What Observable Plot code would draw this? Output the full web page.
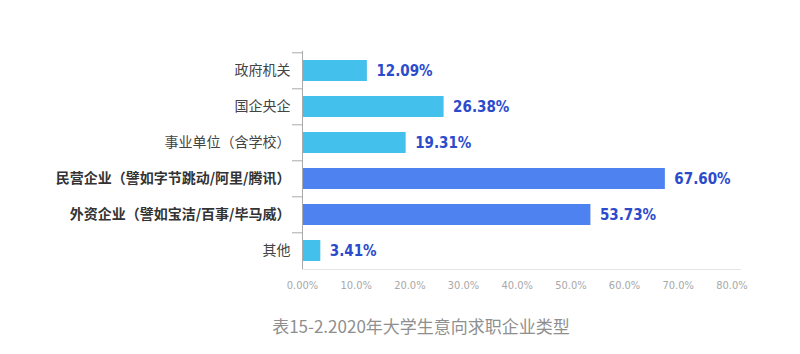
<!DOCTYPE html>
<html>
<head>
<meta charset="utf-8">
<script src="https://cdn.jsdelivr.net/npm/d3@7"></script>
<script src="https://cdn.jsdelivr.net/npm/@observablehq/plot@0.6"></script>
<style>
  body { margin: 0; background: #fff; width: 800px; height: 354px; position: relative; overflow: hidden; }
  #chart svg { display: block; }
  #caption { position: absolute; left: 0; width: 842px; top: 314px; text-align: center;
    font-family: "Noto Sans CJK SC", sans-serif; font-size: 17px; color: #8f8f8f; line-height: 24px; }
</style>
</head>
<body>
<div id="chart"></div>
<div id="caption">表15-2.2020年大学生意向求职企业类型</div>
<script>
const categories = ["政府机关", "国企央企", "事业单位（含学校）", "民营企业（譬如字节跳动/阿里/腾讯）", "外资企业（譬如宝洁/百事/毕马威）", "其他"];
const values = [12.09, 26.38, 19.31, 67.60, 53.73, 3.41];
const highlighted = [false, false, false, true, true, false];
const xTicks = [0, 10, 20, 30, 40, 50, 60, 70, 80];

const data = categories.map((c, i) => ({ cat: c, value: values[i], hi: highlighted[i] }));
const boldSet = new Set(categories.filter((c, i) => highlighted[i]));

const chart = Plot.plot({
  width: 800,
  height: 300,
  marginTop: 51,
  marginBottom: 31,
  marginLeft: 302,
  marginRight: 60,
  x: { domain: [0, 81.6], axis: null },
  y: { domain: categories, paddingInner: 0.42, paddingOuter: 0.21, axis: null },
  style: { fontFamily: "Noto Sans CJK SC, sans-serif", background: "#fff" },
  marks: [
    Plot.frame({ anchor: "bottom", stroke: "#e4e4e4" }),
    Plot.barX(data, { y: "cat", x: "value", fill: d => d.hi ? "#4d82f0" : "#44c0ec" }),
    Plot.text(data, {
      y: "cat", x: "value", text: d => d.value.toFixed(2) + "%",
      dx: 9, textAnchor: "start", fill: "#2c4bcc", fontSize: 15, fontWeight: "bold",
      fontFamily: "DejaVu Sans Condensed"
    }),
    Plot.ruleX([0], { stroke: "#aaaaaa" }),
    Plot.axisY({ tickSize: 10, tickFormat: null, dy: -18.2, stroke: "#aaaaaa", label: null }),
    Plot.axisY({
      tickSize: 0, tickPadding: 12, label: null, fontSize: 14,
      tickFormat: d => d, fill: "#444"
    }),
    Plot.axisX({
      ticks: xTicks, tickSize: 0, tickPadding: 12, label: null, fontSize: 11, fill: "#a8a8a8",
      fontFamily: "DejaVu Sans Condensed",
      tickFormat: d => d === 0 ? "0.00%" : d.toFixed(1) + "%"
    })
  ]
});

// bold the highlighted category labels
d3.select(chart).selectAll("[aria-label='y-axis tick label'] text").each(function () {
  const t = d3.select(this).text();
  if (boldSet.has(t)) d3.select(this).attr("font-weight", "bold").attr("fill", "#333");
});
// condensed numeric labels
d3.select(chart).selectAll("g[aria-label='text'], g[aria-label='x-axis tick label']")
  .attr("font-family", "DejaVu Sans Condensed, DejaVu Sans, sans-serif")
  .style("font-family", "'DejaVu Sans Condensed', 'DejaVu Sans', sans-serif")
  .style("font-stretch", "condensed");

document.getElementById("chart").appendChild(chart);
</script>
</body>
</html>
